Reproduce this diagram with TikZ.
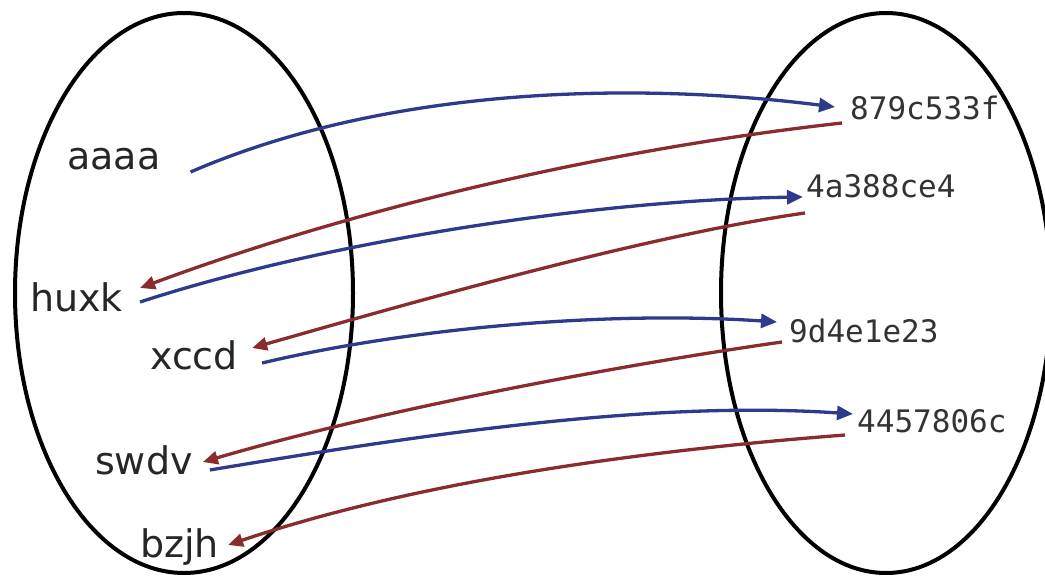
\documentclass[tikz,border=0pt]{standalone}
\usepackage{fontspec}
\setmainfont{DejaVu Sans}
\newfontfamily\hashfont{DejaVu Sans Mono}
\usetikzlibrary{arrows.meta,calc}
\definecolor{bluearrow}{HTML}{2E3A8C}
\definecolor{redarrow}{HTML}{8A2B2E}
\definecolor{hashgray}{HTML}{333333}
\tikzset{
  setline/.style={draw=black,line width=4pt},
  word/.style={inner sep=0pt,anchor=base west,text=black!85,font=\fontsize{38}{40}\selectfont},
  hash/.style={inner sep=0pt,anchor=base west,text=hashgray,font=\hashfont\fontsize{31}{33}\selectfont},
  fwd/.style={draw=bluearrow,line width=3.3pt,-{Triangle[length=16pt,width=14pt]}},
  back/.style={draw=redarrow,line width=3.3pt,-{Triangle[length=15pt,width=13pt]}}
}
\begin{document}
\begin{tikzpicture}[x=1pt,y=-1pt]
\useasboundingbox[fill=white] (0,0) rectangle (1045,577);
% sets
\draw[setline] (184,293) ellipse [x radius=169pt, y radius=280pt];
\draw[setline] (886,293) ellipse [x radius=165pt, y radius=280pt];
% left words
\node[word] (aaaa) at (67,170) {aaaa};
\node[word] (huxk) at (30,312) {huxk};
\node[word] (xccd) at (150,370) {xccd};
\node[word] (swdv) at (95,475) {swdv};
\node[word] (bzjh) at (140,557) {bzjh};
% right hashes
\node[hash] (h1) at (850,120) {879c533f};
\node[hash] (h2) at (806,198) {4a388ce4};
\node[hash] (h3) at (789,343) {9d4e1e23};
\node[hash] (h4) at (857,433) {4457806c};
% arrows
\draw[fwd] ($(aaaa.base east)+(30,2)$) .. controls (380,90) and (620,80) .. ($(h1.base west)+(-15,-13)$);
\draw[back] ($(h1.base west)+(-8,3)$) .. controls (600,150) and (350,210) .. ($(huxk.base east)+(17,-24)$);
\draw[fwd] ($(huxk.base east)+(17,-10)$) .. controls (330,240) and (600,200) .. ($(h2.base west)+(-3,-1)$);
\draw[back] ($(h2.base west)+(-1,15)$) .. controls (650,235) and (420,300) .. ($(xccd.base east)+(14,-22)$);
\draw[fwd] ($(xccd.base east)+(24,-7)$) .. controls (400,330) and (600,310) .. ($(h3.base west)+(-12,-21)$);
\draw[back] ($(h3.base west)+(-7,-1)$) .. controls (620,365) and (380,410) .. ($(swdv.base east)+(10,-13)$);
\draw[fwd] ($(swdv.base east)+(17,-5)$) .. controls (420,435) and (650,400) .. ($(h4.base west)+(-4,-19)$);
\draw[back] ($(h4.base west)+(-12,2)$) .. controls (650,450) and (420,480) .. ($(bzjh.base east)+(9,-12)$);
\end{tikzpicture}
\end{document}
